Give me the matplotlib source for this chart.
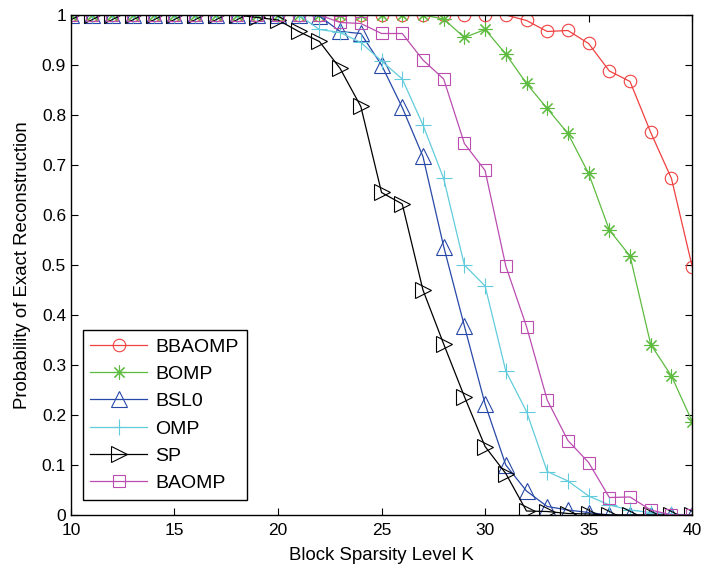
import numpy as np
import matplotlib
matplotlib.use('Agg')
import matplotlib.pyplot as plt

plt.rcParams['font.family'] = ['Liberation Sans', 'DejaVu Sans']

K = list(range(10, 41))

# success rates per algorithm, K = 10..40
bbaomp = [1.0] * 22 + [0.989, 0.967, 0.969, 0.943, 0.888, 0.867, 0.765, 0.673, 0.497]
bomp = [1.0] * 18 + [0.992, 0.955, 0.971, 0.922, 0.863, 0.813, 0.763, 0.683,
                     0.570, 0.518, 0.341, 0.278, 0.187]
bsl0 = [1.0] * 12 + [0.998, 0.967, 0.963, 0.900, 0.815, 0.717, 0.537, 0.378, 0.222,
                     0.100, 0.048, 0.017, 0.010, 0.005, 0.0, 0.0, 0.0, 0.0, 0.0]
omp = [1.0] * 12 + [0.971, 0.965, 0.945, 0.908, 0.872, 0.780, 0.673, 0.500, 0.458,
                    0.288, 0.207, 0.087, 0.068, 0.038, 0.020, 0.010, 0.005, 0.002, 0.0]
sp = [1.0] * 9 + [0.995, 0.990, 0.967, 0.947, 0.893, 0.817, 0.645, 0.622, 0.450,
                  0.342, 0.237, 0.137, 0.083, 0.008, 0.007, 0.003, 0.002, 0.0, 0.0,
                  0.0, 0.0, 0.0]
baomp = [1.0] * 13 + [0.985, 0.983, 0.963, 0.963, 0.910, 0.872, 0.743, 0.689, 0.498,
                      0.377, 0.230, 0.149, 0.105, 0.035, 0.036, 0.010, 0.0, 0.0]

# (label, values, colour, marker, marker size)
series = [
    ('BBAOMP', bbaomp, '#F04040', 'o', 9),
    ('BOMP', bomp, '#5DBB3F', (8, 2, 0), 10),
    ('BSL0', bsl0, '#2848A8', '^', 11),
    ('OMP', omp, '#62CCDC', '+', 12),
    ('SP', sp, '#000000', '>', 11),
    ('BAOMP', baomp, '#BB4DB0', 's', 9),
]

fig = plt.figure(figsize=(7.02, 5.68), dpi=100)
ax = fig.add_axes([0.101, 0.0933, 0.885, 0.8803])

for name, vals, col, mk, ms in series:
    ax.plot(K, vals, color=col, marker=mk, markersize=ms, markerfacecolor='none',
            markeredgecolor=col, markeredgewidth=0.8, linewidth=0.9, label=name)

ax.set_xlim(10, 40)
ax.set_ylim(0, 1)
ax.set_xticks(range(10, 41, 5))
ax.set_yticks(np.arange(0, 1.01, 0.1))
ax.set_yticklabels(['0', '0.1', '0.2', '0.3', '0.4', '0.5', '0.6', '0.7', '0.8', '0.9', '1'])
ax.tick_params(direction='in', top=True, right=True, labelsize=12.5, length=5, width=0.8)
ax.tick_params(axis='x', pad=6)
for s in ax.spines.values():
    s.set_linewidth(1.0)

ax.set_xlabel('Block Sparsity Level K', fontsize=13.4, labelpad=6)
ax.set_ylabel('Probability of Exact Reconstruction', fontsize=13.4, labelpad=8)

leg = ax.legend(loc='lower left', bbox_to_anchor=(0.019, 0.03), borderaxespad=0,
                fontsize=14, fancybox=False, framealpha=1, edgecolor='black',
                handlelength=2.9, handletextpad=0.45, labelspacing=0.5)
leg.get_frame().set_linewidth(1.0)

fig.savefig('out.png', dpi=100)
